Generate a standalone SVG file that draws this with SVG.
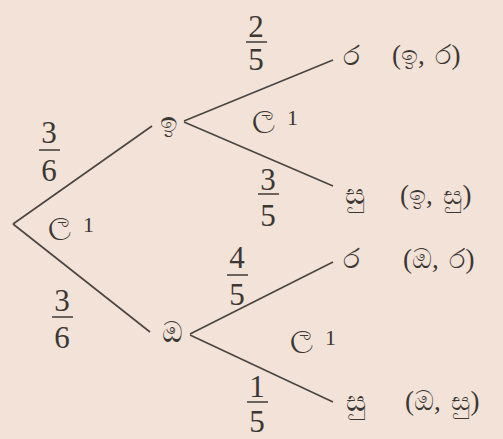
<svg xmlns="http://www.w3.org/2000/svg" width="503" height="439" viewBox="0 0 503 439">
<style>
text{font-family:"Liberation Serif","Noto Sans",serif;fill:#3b3735}
.f{font-size:31px;text-anchor:middle}
.s{font-size:22px}
.si{font-size:30px}
.n{font-size:28px;text-anchor:middle}
.p{font-size:27px;word-spacing:4px}
line{stroke:#4a4542;stroke-width:1.6}
.bar{stroke:#4a4542;stroke-width:1.6}
</style>
<rect width="503" height="439" fill="#f2e2d7"/>
<g id="connectors">
<line x1="13" y1="224" x2="152" y2="126"/>
<line x1="13" y1="224" x2="150" y2="332"/>
<line x1="184" y1="121" x2="333" y2="60"/>
<line x1="184" y1="122" x2="333" y2="186"/>
<line x1="190" y1="334" x2="333" y2="262"/>
<line x1="190" y1="335" x2="333" y2="402"/>
</g>
<g id="node-i"><text class="n" x="169" y="132">ඉ</text></g>
<g id="node-o"><text class="n" x="172" y="342">ඔ</text></g>
<g id="node-r1"><text class="n" x="351" y="65">ර</text></g>
<g id="node-su1"><text class="n" x="355" y="204">සු</text></g>
<g id="node-r2"><text class="n" x="351" y="268">ර</text></g>
<g id="node-su2"><text class="n" x="356" y="411">සු</text></g>
<g id="labels">
<text class="p" x="392" y="64">(ඉ, ර)</text>
<text class="p" x="400" y="204">(ඉ, සු)</text>
<text class="p" x="403" y="268">(ඔ, ර)</text>
<text class="p" x="405" y="410">(ඔ, සු)</text>
<text class="s" x="48" y="232"><tspan class="si">ල</tspan><tspan dx="12">1</tspan></text>
<text class="s" x="252" y="125"><tspan class="si">ල</tspan><tspan dx="12">1</tspan></text>
<text class="s" x="290" y="345"><tspan class="si">ල</tspan><tspan dx="12">1</tspan></text>
</g>
<g id="fractions">
<text class="f" x="49" y="143">3</text><line class="bar" x1="39" y1="150" x2="60" y2="150"/><text class="f" x="49" y="181">6</text>
<text class="f" x="62" y="311">3</text><line class="bar" x1="52" y1="317" x2="73" y2="317"/><text class="f" x="62" y="348">6</text>
<text class="f" x="256" y="37">2</text><line class="bar" x1="246" y1="42" x2="267" y2="42"/><text class="f" x="256" y="70">5</text>
<text class="f" x="268" y="190">3</text><line class="bar" x1="258" y1="194" x2="279" y2="194"/><text class="f" x="268" y="226">5</text>
<text class="f" x="237" y="268">4</text><line class="bar" x1="227" y1="275" x2="248" y2="275"/><text class="f" x="237" y="305">5</text>
<text class="f" x="257" y="397">1</text><line class="bar" x1="247" y1="402" x2="268" y2="402"/><text class="f" x="257" y="432">5</text>
</g>
</svg>
